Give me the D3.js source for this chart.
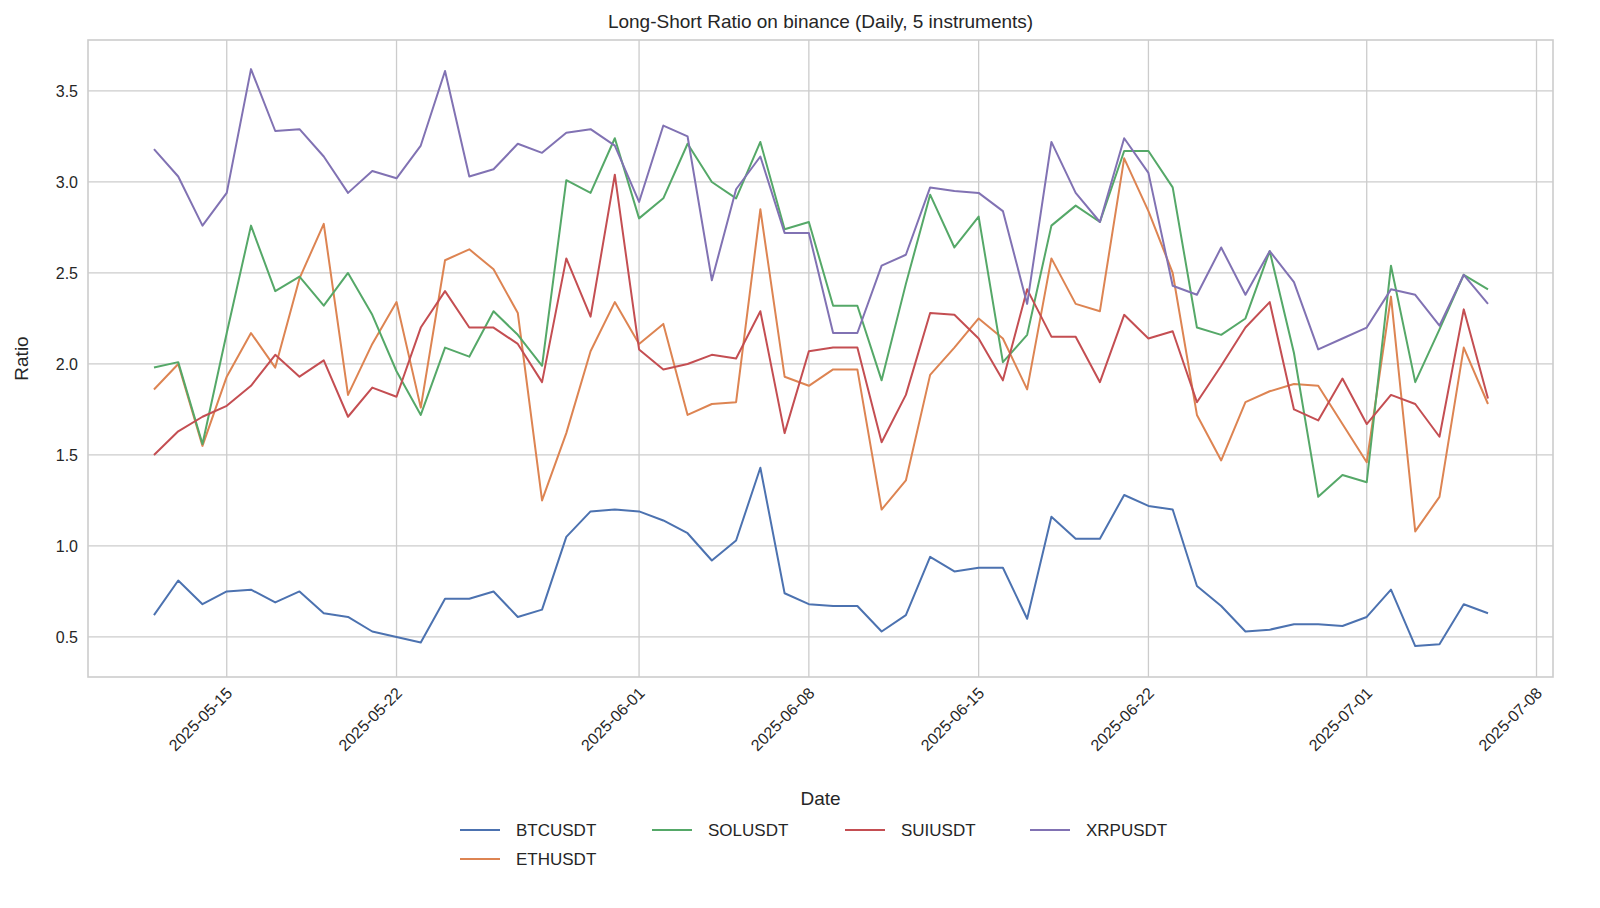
<!DOCTYPE html>
<html>
<head>
<meta charset="utf-8">
<script src="https://cdn.jsdelivr.net/npm/d3@7"></script>
<style>
  body { margin: 0; background: #fff; }
  text { font-family: "Liberation Sans", Arial, sans-serif; fill: #262626; }
</style>
</head>
<body>
<div id="chart"></div>
<script>
var startDate = "2025-05-12";
var seriesNames = ["BTCUSDT", "ETHUSDT", "SOLUSDT", "SUIUSDT", "XRPUSDT"];
var colors = ["#4c72b0", "#dd8452", "#55a868", "#c44e52", "#8172b3"];
var tickDates = ["2025-05-15", "2025-05-22", "2025-06-01", "2025-06-08", "2025-06-15", "2025-06-22", "2025-07-01", "2025-07-08"];
var yTicks = [0.5, 1.0, 1.5, 2.0, 2.5, 3.0, 3.5];

var btc = [0.62,0.81,0.68,0.75,0.76,0.69,0.75,0.63,0.61,0.53,0.50,0.47,0.71,0.71,0.75,0.61,0.65,1.05,1.19,1.20,1.19,1.14,1.07,0.92,1.03,1.43,0.74,0.68,0.67,0.67,0.53,0.62,0.94,0.86,0.88,0.88,0.60,1.16,1.04,1.04,1.28,1.22,1.20,0.78,0.67,0.53,0.54,0.57,0.57,0.56,0.61,0.76,0.45,0.46,0.68,0.63];
var eth = [1.86,2.00,1.55,1.93,2.17,1.98,2.47,2.77,1.83,2.11,2.34,1.76,2.57,2.63,2.52,2.28,1.25,1.62,2.07,2.34,2.11,2.22,1.72,1.78,1.79,2.85,1.93,1.88,1.97,1.97,1.20,1.36,1.94,2.09,2.25,2.14,1.86,2.58,2.33,2.29,3.13,2.84,2.50,1.72,1.47,1.79,1.85,1.89,1.88,1.67,1.46,2.37,1.08,1.27,2.09,1.78];
var sol = [1.98,2.01,1.56,2.17,2.76,2.40,2.48,2.32,2.50,2.27,1.96,1.72,2.09,2.04,2.29,2.16,1.99,3.01,2.94,3.24,2.80,2.91,3.21,3.00,2.91,3.22,2.74,2.78,2.32,2.32,1.91,2.44,2.93,2.64,2.81,2.01,2.16,2.76,2.87,2.78,3.17,3.17,2.97,2.20,2.16,2.25,2.62,2.06,1.27,1.39,1.35,2.54,1.90,2.19,2.49,2.41];
var sui = [1.50,1.63,1.71,1.77,1.88,2.05,1.93,2.02,1.71,1.87,1.82,2.20,2.40,2.20,2.20,2.11,1.90,2.58,2.26,3.04,2.08,1.97,2.00,2.05,2.03,2.29,1.62,2.07,2.09,2.09,1.57,1.83,2.28,2.27,2.14,1.91,2.41,2.15,2.15,1.90,2.27,2.14,2.18,1.79,1.99,2.20,2.34,1.75,1.69,1.92,1.67,1.83,1.78,1.60,2.30,1.81];
var xrp = [3.18,3.03,2.76,2.94,3.62,3.28,3.29,3.14,2.94,3.06,3.02,3.20,3.61,3.03,3.07,3.21,3.16,3.27,3.29,3.20,2.89,3.31,3.25,2.46,2.96,3.14,2.72,2.72,2.17,2.17,2.54,2.60,2.97,2.95,2.94,2.84,2.33,3.22,2.94,2.78,3.24,3.05,2.43,2.38,2.64,2.38,2.62,2.45,2.08,2.14,2.20,2.41,2.38,2.21,2.49,2.33];

var allSeries = [btc, eth, sol, sui, xrp];
var parse = d3.utcParse("%Y-%m-%d");
var day = 86400000;
var t0 = parse(startDate);
var dates = btc.map(function(d, i) { return new Date(+t0 + i * day); });

var margin = { top: 40, right: 47, bottom: 231, left: 88 };
var W = 1600, H = 908;
var width = W - margin.left - margin.right;
var height = H - margin.top - margin.bottom;

var svg = d3.select("#chart").append("svg").attr("width", W).attr("height", H);
var g = svg.append("g").attr("transform", "translate(" + margin.left + "," + margin.top + ")");

var x = d3.scaleUtc()
  .domain([new Date(+dates[0] - 2.72 * day), new Date(+dates[dates.length - 1] + 2.68 * day)])
  .range([0, width]);
var y = d3.scaleLinear().domain([0.28, 3.78]).range([height, 0]);

// grid
g.selectAll(".vg").data(tickDates).enter().append("line")
  .attr("x1", function(d) { return x(parse(d)); }).attr("x2", function(d) { return x(parse(d)); })
  .attr("y1", 0).attr("y2", height).attr("stroke", "#cccccc").attr("stroke-width", 1.3);
g.selectAll(".hg").data(yTicks).enter().append("line")
  .attr("x1", 0).attr("x2", width)
  .attr("y1", function(d) { return y(d); }).attr("y2", function(d) { return y(d); })
  .attr("stroke", "#cccccc").attr("stroke-width", 1.3);

g.append("rect").attr("width", width).attr("height", height)
  .attr("fill", "none").attr("stroke", "#cccccc").attr("stroke-width", 1.6);

// axes
var xAxis = g.append("g").attr("transform", "translate(0," + height + ")")
  .call(d3.axisBottom(x).tickValues(tickDates.map(parse)).tickFormat(d3.utcFormat("%Y-%m-%d")).tickSize(0));
xAxis.select(".domain").remove();
xAxis.selectAll("text")
  .attr("font-size", 16).attr("text-anchor", "end")
  .attr("dx", 0).attr("dy", 0)
  .attr("transform", "translate(4,15) rotate(-45)");

var yAxis = g.append("g")
  .call(d3.axisLeft(y).tickValues(yTicks).tickFormat(d3.format(".1f")).tickSize(0).tickPadding(10));
yAxis.select(".domain").remove();
yAxis.selectAll("text").attr("font-size", 16);

// lines
var line = d3.line().x(function(d, i) { return x(dates[i]); }).y(function(d) { return y(d); });
allSeries.forEach(function(s, k) {
  g.append("path").datum(s).attr("d", line)
    .attr("fill", "none").attr("stroke", colors[k]).attr("stroke-width", 2)
    .attr("stroke-linejoin", "round");
});

// titles
svg.append("text").attr("x", margin.left + width / 2).attr("y", 28)
  .attr("text-anchor", "middle").attr("font-size", 19).text("Long-Short Ratio on binance (Daily, 5 instruments)");
svg.append("text").attr("x", margin.left + width / 2).attr("y", 805)
  .attr("text-anchor", "middle").attr("font-size", 19).text("Date");
svg.append("text").attr("transform", "translate(28," + (margin.top + height / 2) + ") rotate(-90)")
  .attr("text-anchor", "middle").attr("font-size", 19).text("Ratio");

// legend: 4 columns, column-major fill like matplotlib
var legX = [460, 652, 845, 1030];
var legY = [830, 859];
var legPos = [[0, 0], [0, 1], [1, 0], [2, 0], [3, 0]];
seriesNames.forEach(function(name, k) {
  var col = legPos[k][0], row = legPos[k][1];
  var lg = svg.append("g").attr("transform", "translate(" + legX[col] + "," + legY[row] + ")");
  lg.append("line").attr("x1", 0).attr("x2", 40).attr("stroke", colors[k]).attr("stroke-width", 2);
  lg.append("text").attr("x", 56).attr("y", 6).attr("font-size", 17).text(name);
});
</script>
</body>
</html>
